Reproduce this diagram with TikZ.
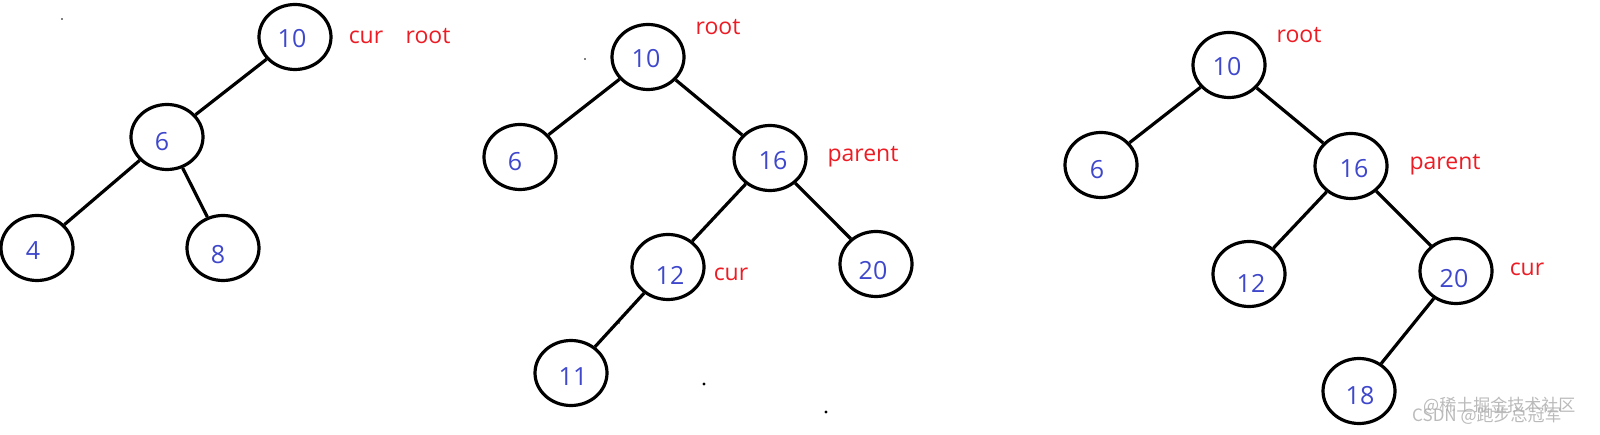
\documentclass[tikz,border=0pt]{standalone}
\usepackage{fontspec}
\setmainfont{Open Sans}
\newfontfamily\cjkwm{Noto Sans CJK SC}
\usetikzlibrary{shapes.geometric}
\definecolor{numblue}{RGB}{63,72,204}
\definecolor{lblred}{RGB}{237,28,36}
\definecolor{wmgray}{RGB}{175,175,175}
\tikzset{
  bst/.style={draw=black, ellipse, line width=3.2pt, minimum width=72pt, minimum height=65pt, inner sep=0pt},
  num/.style={text=numblue, font=\fontsize{25}{29}\selectfont, inner sep=0pt, anchor=center},
  lbl/.style={text=lblred, font=\fontsize{23}{27}\selectfont, inner sep=0pt, anchor=base},
  edge/.style={draw=black, line width=3.2pt},
  wm/.style={text=wmgray, font=\cjkwm\fontsize{17}{20}\selectfont, inner sep=0pt, anchor=west, opacity=0.85},
  speck/.style={fill=black, draw=none}
}
\begin{document}
\begin{tikzpicture}[x=1pt,y=-1pt]
\useasboundingbox (0,0) rectangle (1600,435);
\fill[white] (0,0) rectangle (1600,435);

% ---------- tree 1 ----------
\node[bst] (a10) at (295,37) {};
\node[bst] (a6)  at (167,137) {};
\node[bst] (a4)  at (37,248) {};
\node[bst] (a8)  at (223,248) {};
\draw[edge] (a10) -- (a6);
\draw[edge] (a6) -- (a4);
\draw[edge] (a6) -- (a8);
\node[num] (ta10) at (292,39) {10};
\node[num] (ta6)  at (162,142) {6};
\node[num] (ta4)  at (33,251) {4};
\node[num] (ta8)  at (218,255) {8};
\node[lbl] (acur)  at (366,44) {cur};
\node[lbl] (aroot) at (428,44) {root};

% ---------- tree 2 ----------
\node[bst] (b10) at (648,57) {};
\node[bst] (b6)  at (520,157) {};
\node[bst] (b16) at (770,158) {};
\node[bst] (b12) at (668,267) {};
\node[bst] (b20) at (876,264) {};
\node[bst] (b11) at (571,373) {};
\draw[edge] (b10) -- (b6);
\draw[edge] (b10) -- (b16);
\draw[edge] (b16) -- (b12);
\draw[edge] (b16) -- (b20);
\draw[edge] (b12) -- (b11);
\node[num] (tb10) at (646,59) {10};
\node[num] (tb6)  at (515,162) {6};
\node[num] (tb16) at (773,161) {16};
\node[num] (tb12) at (670,275) {12};
\node[num] (tb20) at (873,271) {20};
\node[num] (tb11) at (573,377) {11};
\node[lbl] (broot)   at (718,35) {root};
\node[lbl] (bparent) at (863,162) {parent};
\node[lbl] (bcur)    at (731,281) {cur};

% ---------- tree 3 ----------
\node[bst] (c10) at (1229,65) {};
\node[bst] (c6)  at (1101,165) {};
\node[bst] (c16) at (1351,166) {};
\node[bst] (c12) at (1249,274) {};
\node[bst] (c20) at (1456,271) {};
\node[bst] (c18) at (1359,391) {};
\draw[edge] (c10) -- (c6);
\draw[edge] (c10) -- (c16);
\draw[edge] (c16) -- (c12);
\draw[edge] (c16) -- (c20);
\draw[edge] (c20) -- (c18);
\node[num] (tc10) at (1227,67) {10};
\node[num] (tc6)  at (1097,170) {6};
\node[num] (tc16) at (1354,169) {16};
\node[num] (tc12) at (1251,283) {12};
\node[num] (tc20) at (1454,279) {20};
\node[num] (tc18) at (1360,396) {18};
\node[lbl] (croot)   at (1299,43) {root};
\node[lbl] (cparent) at (1445,170) {parent};
\node[lbl] (ccur)    at (1527,276) {cur};

% ---------- specks ----------
\fill[speck] (62,19) circle (0.8);
\fill[speck] (585,59) circle (0.8);
\fill[speck] (619,323) circle (0.8);
\fill[speck] (704,384) circle (1.6);
\fill[speck] (826,412) circle (1.6);

% ---------- watermark (two overlapping stamps, as in the source) ----------
\node[wm] (wm1) at (1423,406) {@稀土掘金技术社区};
\node[wm] (wm2) at (1412,416) {CSDN @跑步总冠军};
\end{tikzpicture}
\end{document}
